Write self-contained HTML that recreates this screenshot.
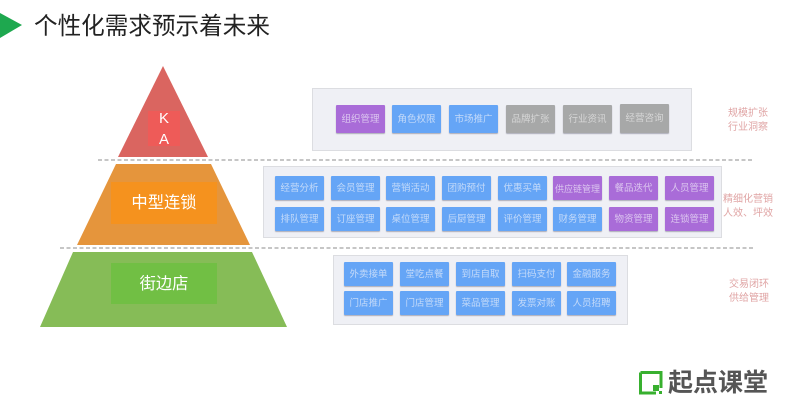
<!DOCTYPE html>
<html><head><meta charset="utf-8">
<style>
html,body{margin:0;padding:0;background:#fff;}
#p{position:relative;width:801px;height:406px;overflow:hidden;background:#fff;font-family:"Liberation Sans","Noto Sans CJK SC",sans-serif;}
#p div{position:absolute;box-sizing:border-box;}
.panel{background:#eff0f5;border:1px solid #dcdde1;}
.b{height:24px;width:49px;text-align:center;font-size:9.5px;line-height:26px;color:#c4daf9;background:#65a5f6;box-shadow:0 1px 1px rgba(90,90,110,.45);border-radius:1px;white-space:nowrap;}
.r3{line-height:25px;}
.p{background:#a96cd8;color:#dcc6ef;}
.g{background:#a7a8a8;color:#d6d6d6;}
.t{height:28px;line-height:30px;}
.l{font-size:10px;line-height:14px;color:#e0a5a5;text-align:center;white-space:nowrap;}
.w{color:#fff;text-align:center;white-space:nowrap;}
</style></head><body>
<div id="p">
<svg width="801" height="406" style="position:absolute;left:0;top:0">
<polygon points="0,13 22,25 0,38" fill="#1ea84f"/>
<polygon points="163,66 208,157 118,157" fill="#da6560"/>
<polygon points="116,164 211,164 250,245 77,245" fill="#e5953c"/>
<polygon points="73,252 252,252 287,327 40,327" fill="#86bc57"/>
<rect x="148" y="111" width="32" height="35" fill="#ee5b58"/>
<rect x="111" y="182" width="106" height="42" fill="#f5921e"/>
<rect x="111" y="263" width="106" height="41" fill="#71bf44"/>
<line x1="98" y1="160" x2="753" y2="160" stroke="#b4b4b4" stroke-width="1.6" stroke-dasharray="4 2.5"/>
<line x1="60" y1="248" x2="753" y2="248" stroke="#b4b4b4" stroke-width="1.6" stroke-dasharray="4 2.5"/>
<path d="M640.5 372.5H661V388M656 393H640.5V372.5" fill="none" stroke="#38b02f" stroke-width="3"/>
<rect x="653" y="385" width="6" height="6" fill="#38b02f"/>
<rect x="659" y="391" width="3" height="3" fill="#38b02f"/>
</svg>

<div style="left:34px;top:12px;font-size:23.6px;line-height:30px;color:#222;white-space:nowrap;">个性化需求预示着未来</div>

<div class="w" style="left:148px;top:108px;width:32px;font-size:15px;line-height:21px;">K<br>A</div>
<div class="w" style="left:111px;top:182px;width:106px;font-size:16.3px;line-height:43px;">中型连锁</div>
<div class="w" style="left:111px;top:263px;width:106px;font-size:16.3px;line-height:42px;">街边店</div>

<div class="panel" style="left:312px;top:88px;width:380px;height:63px;"></div>
<div class="b p t" style="left:336px;top:105px;">组织管理</div>
<div class="b t" style="left:392px;top:105px;">角色权限</div>
<div class="b t" style="left:449px;top:105px;">市场推广</div>
<div class="b g t" style="left:506px;top:105px;">品牌扩张</div>
<div class="b g t" style="left:563px;top:105px;">行业资讯</div>
<div class="b g" style="left:620px;top:104px;height:29px;line-height:29px;">经营咨询</div>

<div class="panel" style="left:263px;top:166px;width:459px;height:72px;"></div>
<div class="b" style="left:275px;top:176px;">经营分析</div>
<div class="b" style="left:331px;top:176px;">会员管理</div>
<div class="b" style="left:386px;top:176px;">营销活动</div>
<div class="b" style="left:442px;top:176px;">团购预付</div>
<div class="b" style="left:498px;top:176px;">优惠买单</div>
<div class="b p" style="left:553px;top:176px;font-size:9px;">供应链管理</div>
<div class="b p" style="left:609px;top:176px;">餐品迭代</div>
<div class="b p" style="left:665px;top:176px;">人员管理</div>
<div class="b" style="left:275px;top:207px;">排队管理</div>
<div class="b" style="left:331px;top:207px;">订座管理</div>
<div class="b" style="left:386px;top:207px;">桌位管理</div>
<div class="b" style="left:442px;top:207px;">后厨管理</div>
<div class="b" style="left:498px;top:207px;">评价管理</div>
<div class="b" style="left:553px;top:207px;">财务管理</div>
<div class="b p" style="left:609px;top:207px;">物资管理</div>
<div class="b p" style="left:665px;top:207px;">连锁管理</div>

<div class="panel" style="left:333px;top:255px;width:295px;height:70px;"></div>
<div class="b r3" style="left:344px;top:262px;">外卖接单</div>
<div class="b r3" style="left:400px;top:262px;">堂吃点餐</div>
<div class="b r3" style="left:456px;top:262px;">到店自取</div>
<div class="b r3" style="left:512px;top:262px;">扫码支付</div>
<div class="b r3" style="left:567px;top:262px;">金融服务</div>
<div class="b r3" style="left:344px;top:291px;">门店推广</div>
<div class="b r3" style="left:400px;top:291px;">门店管理</div>
<div class="b r3" style="left:456px;top:291px;">菜品管理</div>
<div class="b r3" style="left:512px;top:291px;">发票对账</div>
<div class="b r3" style="left:567px;top:291px;">人员招聘</div>

<div class="l" style="left:718px;top:107px;width:60px;">规模扩张<br>行业洞察</div>
<div class="l" style="left:718px;top:193px;width:60px;">精细化营销<br>人效、坪效</div>
<div class="l" style="left:719px;top:278px;width:60px;">交易闭环<br>供给管理</div>

<div style="left:668px;top:369px;font-size:25px;line-height:28px;font-weight:bold;color:#555;white-space:nowrap;">起点课堂</div>
</div>
</body></html>
